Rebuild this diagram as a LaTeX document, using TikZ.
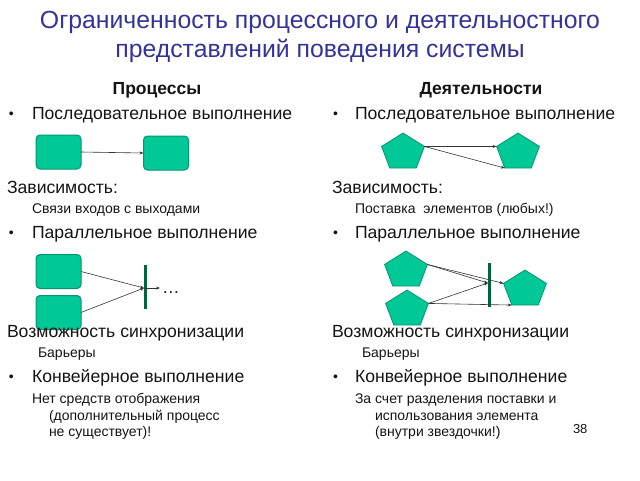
\documentclass[tikz,border=0pt]{standalone}
\usepackage{fontspec}
\setmainfont{Liberation Sans}
\usetikzlibrary{shapes.geometric,arrows.meta}
\definecolor{titleblue}{RGB}{51,51,153}
\definecolor{boxfill}{RGB}{0,200,150}
\definecolor{boxdraw}{RGB}{0,150,110}
\definecolor{barcol}{RGB}{0,100,60}
\definecolor{txt}{RGB}{20,20,20}
\begin{document}
\begin{tikzpicture}[x=1pt,y=-1pt,
 every node/.style={inner sep=0pt, outer sep=0pt},
 ttl/.style={anchor=base, font=\fontsize{24.8}{28}\selectfont, text=titleblue},
 head/.style={anchor=base, font=\fontsize{17.5}{20}\selectfont\bfseries, text=txt},
 big/.style={anchor=base west, font=\fontsize{17.6}{20}\selectfont, text=txt},
 bul/.style={anchor=base west, font=\fontsize{14}{16}\selectfont, text=txt},
 small/.style={anchor=base west, font=\fontsize{14}{16}\selectfont, text=txt},
 proc/.style={draw=boxdraw, fill=boxfill, line width=1pt, rounded corners=4pt, minimum width=45pt, minimum height=34pt},
 act/.style={draw=boxdraw, fill=boxfill, line width=0.8pt, regular polygon, regular polygon sides=5, minimum size=45pt, yscale=0.86, transform shape},
 barstyle/.style={fill=barcol, minimum width=3pt, minimum height=44pt},
 conn/.style={-{Stealth[length=4pt,width=3pt]}, line width=0.6pt, draw=black!80},
]
\useasboundingbox (0,0) rectangle (640,480);
% title
\node[ttl] (t1) at (320,28) {Ограниченность процессного и деятельностного};
\node[ttl] (t2) at (320,57) {представлений поведения системы};
% headers
\node[head] (hp) at (157,94) {Процессы};
\node[head] (ha) at (481,94) {Деятельности};
% left column
\node[bul] (lb1) at (9,118) {•};
\node[big] (l1) at (32,119) {Последовательное выполнение};
\node[proc] (pa) at (58.5,152) {};
\node[proc] (pb) at (166,153) {};
\draw[conn] (pa.east) -- (pb.west);
\node[big] (l2) at (7,193) {Зависимость:};
\node[small] (l3) at (32,213) {Связи входов с выходами};
\node[bul] (lb2) at (9,237) {•};
\node[big] (l4) at (32,238) {Параллельное выполнение};
\node[proc] (pc) at (58.5,271.5) {};
\node[proc] (pd) at (58.5,312.5) {};
\node[barstyle] (bar1) at (145,287) {};
\coordinate (j1) at (144,288);
\coordinate (e1) at (160,288);
\draw[conn] (pc.east) -- (j1);
\draw[conn] (pd.east) -- (j1);
\draw[conn] (j1) -- (e1);
\node[big] (dots) at (162,293) {…};
\node[big] (l5) at (7,337) {Возможность синхронизации};
\node[small] (l6) at (38,357) {Барьеры};
\node[bul] (lb3) at (9,381) {•};
\node[big] (l7) at (32,382) {Конвейерное выполнение};
\node[small] (l8) at (32,403) {Нет средств отображения};
\node[small] (l9) at (49,420) {(дополнительный процесс};
\node[small] (l10) at (49,436) {не существует)!};
% right column
\node[bul] (rb1) at (333,118) {•};
\node[big] (r1) at (355,119) {Последовательное выполнение};
\node[act] (p1) at (403,152.4) {};
\node[act] (p2) at (518,152.4) {};
\draw[conn] (p1.corner 5) -- (p2.corner 2);
\draw[conn] (p1.corner 5) -- (p2.corner 3);
\node[big] (r2) at (332,193) {Зависимость:};
\node[small] (r3) at (355,213) {Поставка\ \ элементов (любых!)};
\node[bul] (rb2) at (333,237) {•};
\node[big] (r4) at (355,238) {Параллельное выполнение};
\node[act] (p3) at (406,270.4) {};
\node[act] (p4) at (407,309.4) {};
\node[act] (p5) at (525,289.4) {};
\node[barstyle] (bar2) at (489,285) {};
\coordinate (j2) at (488,283);
\draw[conn] (p3.corner 5) -- (j2);
\draw[conn] (p3.corner 5) -- (p5.corner 2);
\draw[conn] (p4.corner 5) -- (j2);
\draw[conn] (p4.corner 5) -- (p5.corner 3);
\node[big] (r5) at (332,337) {Возможность синхронизации};
\node[small] (r6) at (362,357) {Барьеры};
\node[bul] (rb3) at (333,381) {•};
\node[big] (r7) at (355,382) {Конвейерное выполнение};
\node[small] (r8) at (355,403) {За счет разделения поставки и};
\node[small] (r9) at (375,420) {использования элемента};
\node[small] (r10) at (375,436) {(внутри звездочки!)};
\node[small, font=\fontsize{13}{15}\selectfont] (pg) at (573,433) {38};
\end{tikzpicture}
\end{document}
